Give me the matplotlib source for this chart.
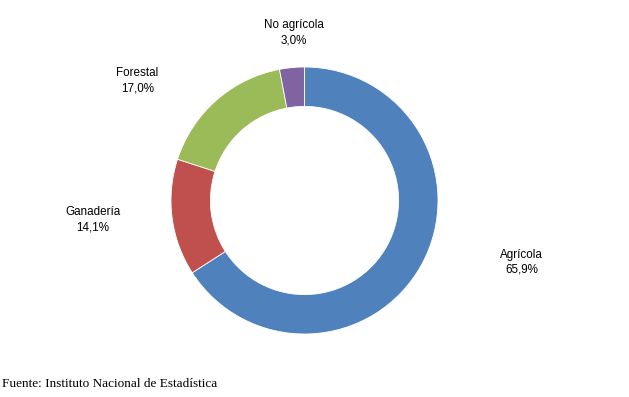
import matplotlib
matplotlib.use("Agg")
import matplotlib.pyplot as plt

categories = ["Agrícola", "Ganadería", "Forestal", "No agrícola"]
values = [65.9, 14.1, 17.0, 3.0]
value_labels = ["65,9%", "14,1%", "17,0%", "3,0%"]
colors = ["#4F81BD", "#C0504D", "#9BBB59", "#8064A2"]
label_pos = [(1.625, -0.462), (-1.584, -0.144), (-1.251, 0.898), (-0.079, 1.257)]

W, H = 629, 397
fig = plt.figure(figsize=(W / 100, H / 100), dpi=100)
cx, cy, r = 304.5, 200.5, 133.5
ax = fig.add_axes([(cx - r) / W, (H - cy - r) / H, 2 * r / W, 2 * r / H])
ax.pie(values, colors=colors, startangle=90, counterclock=False, radius=1,
       wedgeprops=dict(width=0.295, edgecolor="white", linewidth=0.6))
ax.set_xlim(-1, 1)
ax.set_ylim(-1, 1)
ax.set_axis_off()

for cat, lab, (x, y) in zip(categories, value_labels, label_pos):
    ax.text(x, y, f"{cat}\n{lab}", ha="center", va="center", fontsize=8.4,
            family="Liberation Sans", color="#000000", linespacing=1.35,
            clip_on=False)

fig.text(2 / W, 1 - 384 / H, "Fuente: Instituto Nacional de Estadística",
         ha="left", va="center", fontsize=9.5, family="Liberation Serif")

fig.savefig("out.png", dpi=100)
